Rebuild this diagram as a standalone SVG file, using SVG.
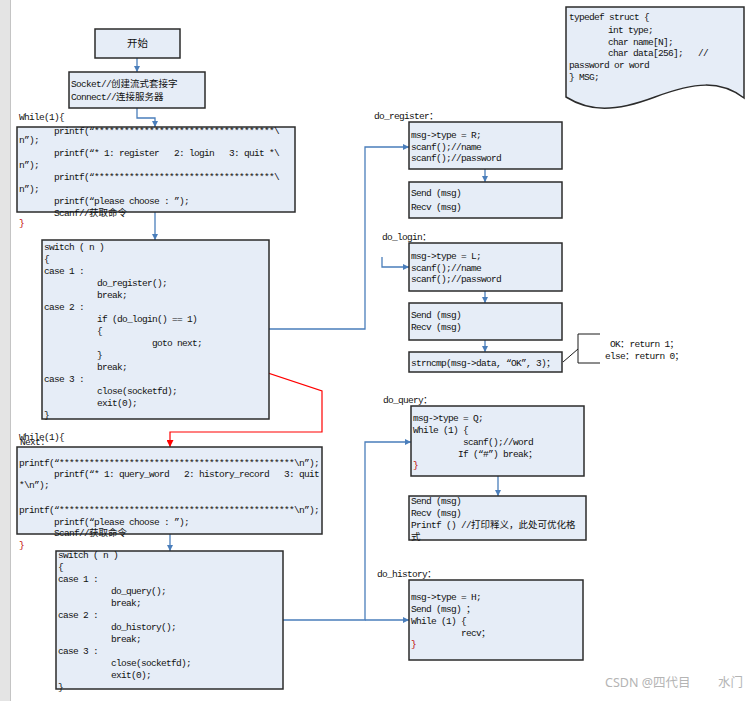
<svg xmlns="http://www.w3.org/2000/svg" width="750" height="701" viewBox="0 0 750 701" xml:space="preserve">
<style>
.bx{fill:#e6edf7;stroke:#2b2b2b;stroke-width:1.5}
.c{font-family:"Liberation Mono","Noto Sans CJK SC",monospace;font-size:9.5px;letter-spacing:-0.7px;fill:#111111;white-space:pre}
.z{letter-spacing:0}
.r{fill:#c00000}
.bl{fill:none;stroke:#4a7ebb;stroke-width:1.3}
.rd{fill:none;stroke:#ff0000;stroke-width:1.2}
.wm{font-family:"Noto Sans","Noto Sans CJK SC",sans-serif;font-size:12.5px;fill:#b4b4b4}
</style>
<defs>
<marker id="ab" viewBox="0 0 10 10" refX="10" refY="5" markerWidth="6" markerHeight="6" orient="auto" markerUnits="userSpaceOnUse"><path d="M0,0 L10,5 L0,10 Z" fill="#4a7ebb"/></marker>
<marker id="ar" viewBox="0 0 10 10" refX="10" refY="5" markerWidth="7" markerHeight="7" orient="auto" markerUnits="userSpaceOnUse"><path d="M0,0 L10,5 L0,10 Z" fill="#ff0000"/></marker>
</defs>
<rect x="0" y="0" width="750" height="701" fill="#ffffff"/>
<rect x="0" y="0" width="10" height="701" fill="#e4e4e4"/>
<line x1="10.5" y1="0" x2="10.5" y2="701" stroke="#c4c4c4" stroke-width="1"/>

<g id="connectors">
<path class="bl" d="M137,58 V72" marker-end="url(#ab)"/>
<path class="bl" d="M137,108 V118 H155 V127" marker-end="url(#ab)"/>
<path class="bl" d="M155,212 V240" marker-end="url(#ab)"/>
<path class="bl" d="M269,329 H365 V147 H409" marker-end="url(#ab)"/>
<path class="bl" d="M382,257 V267 H409" marker-end="url(#ab)"/>
<path class="bl" d="M485,169 V182" marker-end="url(#ab)"/>
<path class="bl" d="M485,291 V303" marker-end="url(#ab)"/>
<path class="bl" d="M485,340 V352" marker-end="url(#ab)"/>
<path class="rd" d="M175,342 L322,391 V432 H170 V447" marker-end="url(#ar)"/>
<path class="bl" d="M170,534 V551" marker-end="url(#ab)"/>
<path class="bl" d="M283,620 H365 V442 H411" marker-end="url(#ab)"/>
<path class="bl" d="M365,620 H409" marker-end="url(#ab)"/>
<path class="bl" d="M498,476 V496" marker-end="url(#ab)"/>
<path fill="none" stroke="#1a1a1a" stroke-width="1" d="M563,362 L578,349 M600,334 H578 V363 H600"/>
</g>

<g id="start">
<rect class="bx" x="95" y="29" width="85" height="29"/>
<text x="137.5" y="47" text-anchor="middle" font-family="'Noto Sans CJK SC',sans-serif" font-size="10.5" fill="#111111">开始</text>
</g>

<g id="socket">
<rect class="bx" x="69" y="72" width="136" height="36"/>
<text class="c" x="71" y="87">Socket//<tspan class="z">创建流式套接字</tspan></text>
<text class="c" x="71" y="100">Connect//<tspan class="z">连接服务器</tspan></text>
</g>

<g id="menu1">
<text class="c" x="19" y="120">While(1){</text>
<rect class="bx" x="17" y="127" width="278" height="85"/>
<text class="c" x="54" y="134">printf(“************************************\</text>
<text class="c" x="19" y="143">n”);</text>
<text class="c" x="54" y="156">printf(“* 1: register   2: login   3: quit *\</text>
<text class="c" x="19" y="168">n”);</text>
<text class="c" x="54" y="180">printf(“************************************\</text>
<text class="c" x="19" y="192">n”);</text>
<text class="c" x="54" y="204">printf(“please choose : ”);</text>
<text class="c" x="54" y="216">Scanf//<tspan class="z">获取命令</tspan></text>
<text class="c r" x="19" y="226">}</text>
</g>

<g id="switch1">
<rect class="bx" x="42" y="240" width="227" height="179"/>
<text class="c" x="44" y="250">switch ( n )</text>
<text class="c" x="44" y="262">{</text>
<text class="c" x="44" y="274">case 1 :</text>
<text class="c" x="97" y="286">do_register();</text>
<text class="c" x="97" y="298">break;</text>
<text class="c" x="44" y="310">case 2 :</text>
<text class="c" x="97" y="322">if (do_login() == 1)</text>
<text class="c" x="97" y="334">{</text>
<text class="c" x="152" y="346">goto next;</text>
<text class="c" x="97" y="358">}</text>
<text class="c" x="97" y="370">break;</text>
<text class="c" x="44" y="382">case 3 :</text>
<text class="c" x="97" y="394">close(socketfd);</text>
<text class="c" x="97" y="406">exit(0);</text>
<text class="c" x="44" y="418">}</text>
</g>

<g id="menu2">
<text class="c" x="19" y="440">While(1){</text>
<text class="c" x="20" y="445">Next:</text>
<rect class="bx" x="17" y="447" width="305" height="87"/>
<text class="c" x="19" y="466">printf(“***********************************************\n”);</text>
<text class="c" x="54" y="477">printf(“* 1: query_word   2: history_record   3: quit</text>
<text class="c" x="19" y="488">*\n”);</text>
<text class="c" x="19" y="513">printf(“***********************************************\n”);</text>
<text class="c" x="54" y="525">printf(“please choose : ”);</text>
<text class="c" x="54" y="536">Scanf//<tspan class="z">获取命令</tspan></text>
<text class="c r" x="19" y="548">}</text>
</g>

<g id="switch2">
<rect class="bx" x="56" y="551" width="227" height="138"/>
<text class="c" x="58" y="558">switch ( n )</text>
<text class="c" x="58" y="570">{</text>
<text class="c" x="58" y="582">case 1 :</text>
<text class="c" x="111" y="594">do_query();</text>
<text class="c" x="111" y="606">break;</text>
<text class="c" x="58" y="618">case 2 :</text>
<text class="c" x="111" y="630">do_history();</text>
<text class="c" x="111" y="642">break;</text>
<text class="c" x="58" y="654">case 3 :</text>
<text class="c" x="111" y="666">close(socketfd);</text>
<text class="c" x="111" y="678">exit(0);</text>
<text class="c" x="58" y="690">}</text>
</g>

<g id="do_register">
<text class="c" x="374" y="119">do_register<tspan class="z">：</tspan></text>
<rect class="bx" x="409" y="122" width="153" height="47"/>
<text class="c" x="411" y="138">msg-&gt;type = R;</text>
<text class="c" x="411" y="150">scanf();//name</text>
<text class="c" x="411" y="161">scanf();//password</text>
</g>
<g id="register_send">
<rect class="bx" x="409" y="182" width="153" height="36"/>
<text class="c" x="411" y="196">Send (msg)</text>
<text class="c" x="411" y="210">Recv (msg)</text>
</g>

<g id="do_login">
<text class="c" x="382" y="240">do_login<tspan class="z">：</tspan></text>
<rect class="bx" x="409" y="243" width="153" height="48"/>
<text class="c" x="411" y="259">msg-&gt;type = L;</text>
<text class="c" x="411" y="271">scanf();//name</text>
<text class="c" x="411" y="282">scanf();//password</text>
</g>
<g id="login_send">
<rect class="bx" x="409" y="303" width="153" height="37"/>
<text class="c" x="411" y="318">Send (msg)</text>
<text class="c" x="411" y="330">Recv (msg)</text>
</g>
<g id="login_cmp">
<rect class="bx" x="409" y="352" width="153" height="20"/>
<text class="c" x="411" y="366">strncmp(msg-&gt;data, “OK”, 3)<tspan class="z">；</tspan></text>
</g>
<g id="login_note">
<text class="c" x="610" y="347">OK<tspan class="z">：</tspan>return 1<tspan class="z">；</tspan></text>
<text class="c" x="605" y="359">else<tspan class="z">：</tspan>return 0<tspan class="z">；</tspan></text>
</g>

<g id="do_query">
<text class="c" x="383" y="403">do_query<tspan class="z">：</tspan></text>
<rect class="bx" x="411" y="406" width="173" height="70"/>
<text class="c" x="413" y="421">msg-&gt;type = Q;</text>
<text class="c" x="413" y="433">While (1) {</text>
<text class="c" x="463" y="445">scanf();//word</text>
<text class="c" x="458" y="457">If (“#”) break<tspan class="z">；</tspan></text>
<text class="c r" x="413" y="468">}</text>
</g>
<g id="query_send">
<rect class="bx" x="409" y="496" width="177" height="44"/>
<text class="c" x="411" y="504">Send (msg)</text>
<text class="c" x="411" y="516">Recv (msg)</text>
<text class="c" x="411" y="528">Printf () //<tspan class="z">打印释义，此处可优化格</tspan></text>
<text class="c" x="411" y="540"><tspan class="z">式</tspan></text>
</g>

<g id="do_history">
<text class="c" x="377" y="577">do_history<tspan class="z">：</tspan></text>
<rect class="bx" x="409" y="580" width="174" height="80"/>
<text class="c" x="411" y="600">msg-&gt;type = H;</text>
<text class="c" x="411" y="612">Send (msg) <tspan class="z">；</tspan></text>
<text class="c" x="411" y="624">While (1) {</text>
<text class="c" x="461" y="636">recv<tspan class="z">；</tspan></text>
<text class="c r" x="411" y="647">}</text>
</g>

<g id="msg_struct">
<path class="bx" d="M566,7 H744 V98 C720,80 695,82 655,97 C615,112 590,112 566,97 Z"/>
<text class="c" x="569" y="20">typedef struct {</text>
<text class="c" x="608" y="33">int type;</text>
<text class="c" x="608" y="45">char name[N];</text>
<text class="c" x="608" y="56">char data[256];   //</text>
<text class="c" x="569" y="68">password or word</text>
<text class="c" x="569" y="80">} MSG;</text>
</g>

<text class="wm" x="605" y="687">CSDN @四代目<tspan x="718">水门</tspan></text>
</svg>
